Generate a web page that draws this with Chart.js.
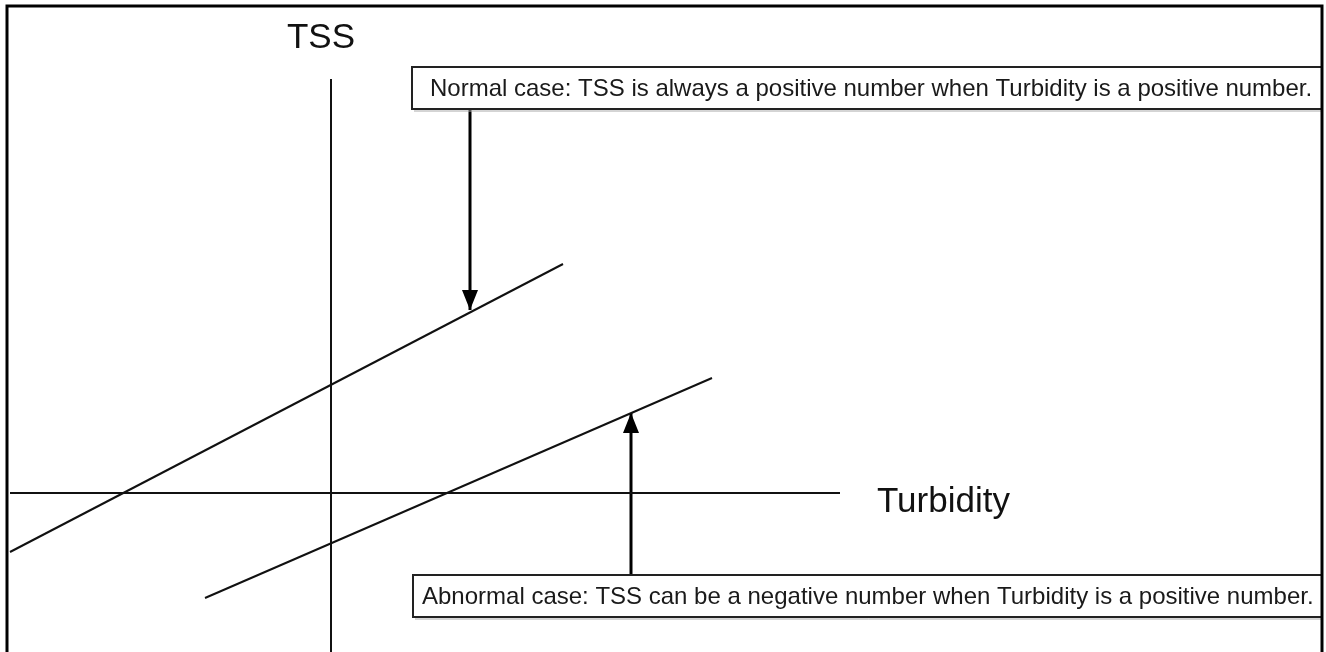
<!DOCTYPE html>
<html>
<head>
<meta charset="utf-8">
<script src="https://cdn.jsdelivr.net/npm/chart.js@4/dist/chart.umd.min.js"></script>
<style>
  body { margin: 0; background: #fff; }
  canvas { display: block; }
</style>
</head>
<body>
<canvas id="myCanvas" width="1326" height="652"></canvas>
<script>
// conceptual diagram, units are arbitrary (origin = axes crossing)
const turbidityAxis = [-32.1, 50.9];   // horizontal axis extent (TSS = 0)
const tssAxis = [-16, 41.4];           // vertical axis extent (Turbidity = 0)

const normalTurbidity = [-32.1, 23.2];
const normalTss = [-5.9, 22.9];

const abnormalTurbidity = [-12.6, 38.1];
const abnormalTss = [-10.5, 11.5];

// arrows: start at the note box, end on the line
const normalArrowX = 13.9;
const normalArrowY = [38.4, 18.3];
const abnormalArrowX = 30.0;
const abnormalArrowY = [-8.2, 8.0];

const axisTitles = ['TSS', 'Turbidity'];
const notes = [
    'Normal case: TSS is always a positive number when Turbidity is a positive number.',
    'Abnormal case: TSS can be a negative number when Turbidity is a positive number.'
];

function pairs(xs, ys) {
    return xs.map((x, i) => ({ x: x, y: ys[i] }));
}

const FONT = '"Liberation Sans", Arial, sans-serif';

const diagramPlugin = {
    id: 'diagram',
    afterDatasetsDraw(chart) {
        const ctx = chart.ctx;
        const xs = chart.scales.x;
        const ys = chart.scales.y;

        // arrow heads at the last point of arrow datasets
        chart.data.datasets.forEach((ds, i) => {
            if (!ds.arrow) return;
            const pts = chart.getDatasetMeta(i).data;
            const a = pts[pts.length - 2], b = pts[pts.length - 1];
            const ang = Math.atan2(b.y - a.y, b.x - a.x);
            ctx.save();
            ctx.translate(b.x, b.y);
            ctx.rotate(ang);
            ctx.beginPath();
            ctx.moveTo(0, 0);
            ctx.lineTo(-20, -8);
            ctx.lineTo(-20, 8);
            ctx.closePath();
            ctx.fillStyle = '#000';
            ctx.fill();
            ctx.restore();
        });

        // note boxes
        const boxes = [
            { x0: 8.1, x1: 99.1, y0: 42.6, y1: 38.4, text: notes[0], tx: 9.9 },
            { x0: 8.2, x1: 99.1, y0: -8.2, y1: -12.4, text: notes[1], tx: 9.1 }
        ];
        ctx.save();
        boxes.forEach(b => {
            const l = xs.getPixelForValue(b.x0), r = xs.getPixelForValue(b.x1);
            const t = ys.getPixelForValue(b.y0), btm = ys.getPixelForValue(b.y1);
            ctx.fillStyle = '#fff';
            ctx.fillRect(l, t, r - l, btm - t);
            ctx.strokeStyle = '#aaa';
            ctx.lineWidth = 1;
            ctx.beginPath();
            ctx.moveTo(l + 2, btm + 2);
            ctx.lineTo(r, btm + 2);
            ctx.stroke();
            ctx.strokeStyle = '#222';
            ctx.lineWidth = 2;
            ctx.strokeRect(l, t, r - l, btm - t);
            ctx.fillStyle = '#1a1a1a';
            ctx.font = '24px ' + FONT;
            ctx.textBaseline = 'middle';
            ctx.textAlign = 'left';
            ctx.fillText(b.text, xs.getPixelForValue(b.tx), (t + btm) / 2 + 1);
        });

        // axis titles
        ctx.fillStyle = '#111';
        ctx.font = '35px ' + FONT;
        ctx.textBaseline = 'alphabetic';
        ctx.textAlign = 'center';
        ctx.fillText(axisTitles[0], xs.getPixelForValue(-1.0), 48);
        ctx.textAlign = 'left';
        ctx.fillText(axisTitles[1], xs.getPixelForValue(54.6), ys.getPixelForValue(-1.9));

        // frame
        ctx.strokeStyle = '#000';
        ctx.lineWidth = 3;
        ctx.strokeRect(7, 6, 1315, 700);
        ctx.restore();
    }
};

const lineStyle = {
    showLine: true,
    borderColor: '#111',
    borderWidth: 2,
    pointRadius: 0,
    fill: false
};

window.myChart = new Chart(document.getElementById('myCanvas').getContext('2d'), {
    type: 'scatter',
    data: {
        datasets: [
            Object.assign({ label: 'Turbidity axis', data: pairs(turbidityAxis, [0, 0]) }, lineStyle),
            Object.assign({ label: 'TSS axis', data: pairs([0, 0], tssAxis) }, lineStyle),
            Object.assign({ label: 'Normal', data: pairs(normalTurbidity, normalTss) }, lineStyle),
            Object.assign({ label: 'Abnormal', data: pairs(abnormalTurbidity, abnormalTss) }, lineStyle),
            Object.assign({ label: 'Normal arrow', arrow: true,
                data: pairs([normalArrowX, normalArrowX], normalArrowY) }, lineStyle, { borderWidth: 3, borderColor: '#000' }),
            Object.assign({ label: 'Abnormal arrow', arrow: true,
                data: pairs([abnormalArrowX, abnormalArrowX], abnormalArrowY) }, lineStyle, { borderWidth: 3, borderColor: '#000' })
        ]
    },
    options: {
        responsive: false,
        animation: false,
        devicePixelRatio: 1,
        layout: { padding: 0 },
        scales: {
            x: { type: 'linear', display: false, min: -33.1, max: 99.5 },
            y: { type: 'linear', display: false, min: -15.9, max: 49.3 }
        },
        plugins: {
            legend: { display: false },
            tooltip: { enabled: false }
        }
    },
    plugins: [diagramPlugin]
});
</script>
</body>
</html>
